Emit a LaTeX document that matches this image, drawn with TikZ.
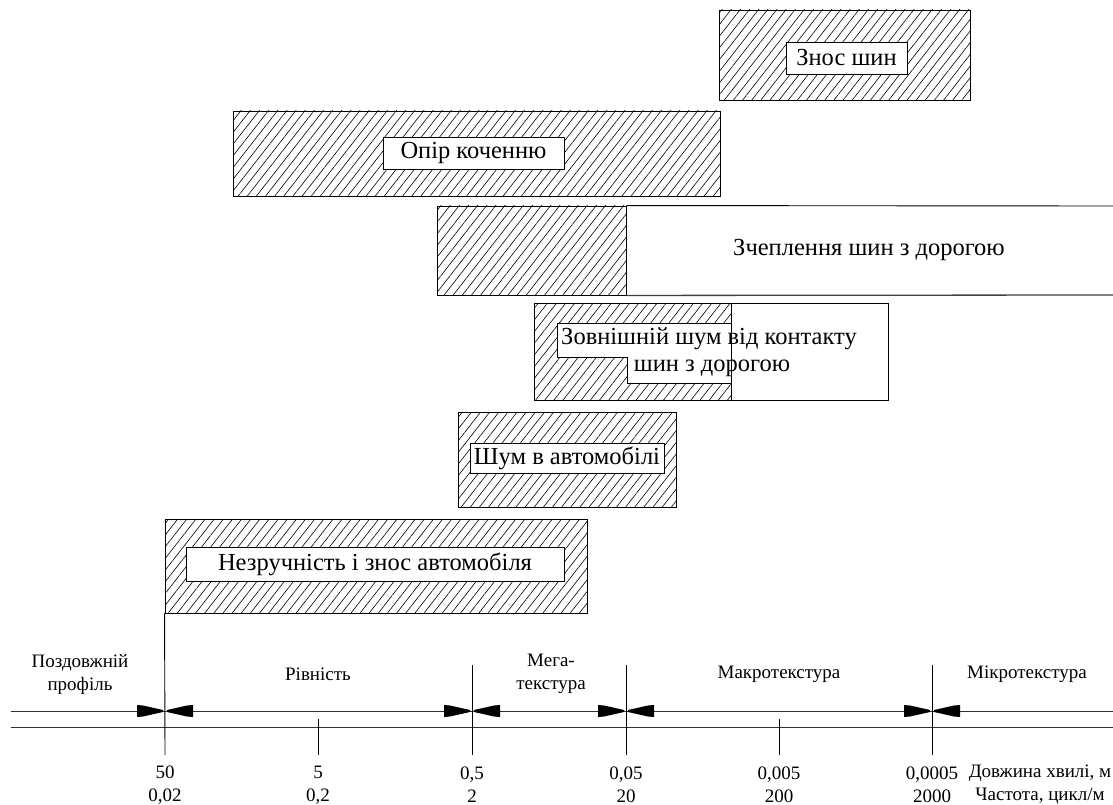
\documentclass[tikz,border=0pt]{standalone}
\usepackage{fontspec}
\setmainfont{Liberation Serif}
\usetikzlibrary{patterns.meta}
\begin{document}
\begin{tikzpicture}[x=1pt,y=-1pt,
  every node/.style={font=\rmfamily},
  hatch/.style={draw, line width=0.9pt, inner sep=0pt,
    pattern={Lines[angle=52,distance=7.2pt,line width=0.6pt]}},
  lbl/.style={draw, fill=white, line width=0.9pt, inner sep=0pt,
    font=\rmfamily\fontsize{24.5}{28}\selectfont},
  big/.style={font=\rmfamily\fontsize{24.5}{28}\selectfont, inner sep=0pt},
  ax/.style={font=\rmfamily\fontsize{19}{23}\selectfont, align=center, inner sep=0pt},
  axline/.style={line width=0.9pt, black!80},
  tick/.style={line width=0.9pt},
  ahead/.style={fill=black}]
\useasboundingbox (0,0) rectangle (1113,805);

% Знос шин
\node[hatch, minimum width=251pt, minimum height=90pt] (znos) at (844.5,55) {};
\node[lbl, minimum width=121pt, minimum height=32pt] (znosl) at (846.5,58) {Знос шин};

% Опір коченню
\node[hatch, minimum width=487pt, minimum height=85pt] (opir) at (476.5,153.5) {};
\node[lbl, minimum width=181pt, minimum height=32pt] (opirl) at (473.5,153) {Опір коченню};

% Зчеплення шин з дорогою
\node[hatch, minimum width=189pt, minimum height=89pt] (zch) at (531.5,250.5) {};
\coordinate (zchTR) at (1113,206);
\coordinate (zchBR) at (1113,295);
\draw[line width=0.9pt] (zch.north east) -- (zchTR);
\draw[line width=1.3pt, black!75] (zch.south east) -- (zchBR);
\node[big] (zchl) at (869,250) {Зчеплення шин з дорогою};

% Зовнішній шум від контакту шин з дорогою
\node[draw, fill=white, line width=0.9pt, minimum width=354pt, minimum height=97pt, inner sep=0pt] (zovn) at (711,351.5) {};
\node[hatch, minimum width=197pt, minimum height=97pt] (zovnh) at (632.5,351.5) {};
\draw[fill=white, line width=0.9pt] (557,323) -- (731,323) -- (731,383) -- (627,383) -- (627,357) -- (557,357) -- cycle;
\draw[line width=0.9pt] (zovnh.north east) -- (zovnh.south east);
\node[big] (zovn1) at (709,339) {Зовнішній шум від контакту};
\node[big] (zovn2) at (712,368) {шин з дорогою};

% Шум в автомобілі
\node[hatch, minimum width=218pt, minimum height=95pt] (shum) at (567,459.5) {};
\node[lbl, minimum width=194pt, minimum height=30pt] (shuml) at (567,458) {Шум в автомобілі};

% Незручність і знос автомобіля
\node[hatch, minimum width=422pt, minimum height=94pt] (nezr) at (376,566) {};
\node[lbl, minimum width=378pt, minimum height=34pt] (nezrl) at (375,564) {Незручність і знос автомобіля};

% axis lines
\coordinate (a1L) at (11,711);
\coordinate (a1R) at (1113,711);
\coordinate (a2L) at (11,727);
\coordinate (a2R) at (1113,727);
\draw[axline] (a1L) -- (a1R);
\draw[axline] (a2L) -- (a2R);

% main ticks
\coordinate (t50b) at (165,755);
\draw[tick] (nezr.south west) -- (t50b);
\foreach \x/\n in {472/t05, 626/t005, 932/t00005}{
  \coordinate (\n t) at (\x,665);
  \coordinate (\n b) at (\x,755);
  \draw[tick] (\n t) -- (\n b);
}
% small ticks
\foreach \x/\n in {318/t5, 779/t0005}{
  \coordinate (\n t) at (\x,719);
  \coordinate (\n b) at (\x,755);
  \draw[tick] (\n t) -- (\n b);
}

% arrowheads
\foreach \x in {165,472,626,932}{
  \fill[ahead] (\x-28,705) -- (\x-22,705.5) -- (\x-2,710) -- (\x-2,712) -- (\x-22,716.5) -- (\x-28,717) -- cycle;
  \fill[ahead] (\x+28,705) -- (\x+22,705.5) -- (\x+2,710) -- (\x+2,712) -- (\x+22,716.5) -- (\x+28,717) -- cycle;
}

% region labels
\node[ax] (lprof) at (80,675) {Поздовжній\\профіль};
\node[ax] (lriv) at (318,674) {Рівність};
\node[ax] (lmega) at (551,674) {Мега-\\текстура};
\node[ax] (lmakro) at (779,674) {Макротекстура};
\node[ax] (lmikro) at (1027,674) {Мікротекстура};

% values
\node[ax] (v1) at (165,785) {50\\0,02};
\node[ax] (v2) at (318,785) {5\\0,2};
\node[ax] (v3) at (472,785) {0,5\\2};
\node[ax] (v4) at (626,785) {0,05\\20};
\node[ax] (v5) at (779,785) {0,005\\200};
\node[ax] (v6) at (932,785) {0,0005\\2000};
\node[ax] (vunits) at (1040,785) {Довжина хвилі, м\\Частота, цикл/м};
\end{tikzpicture}
\end{document}
